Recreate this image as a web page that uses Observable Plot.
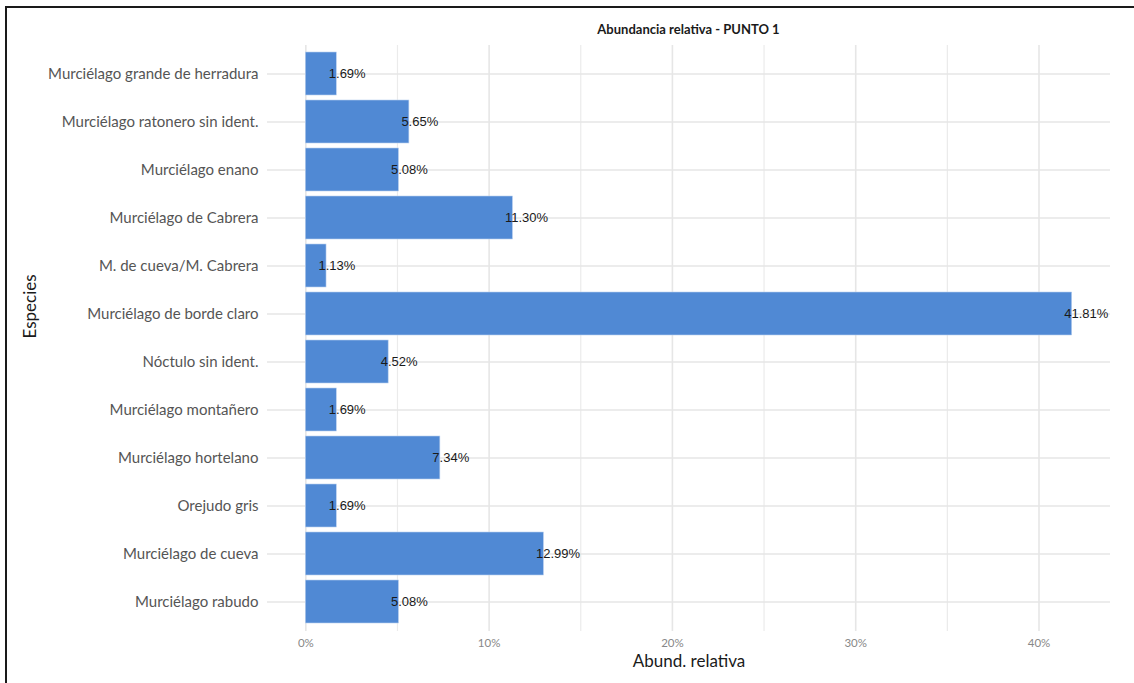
<!DOCTYPE html>
<html>
<head>
<meta charset="utf-8">
<script src="https://cdn.jsdelivr.net/npm/d3@7"></script>
<script src="https://cdn.jsdelivr.net/npm/@observablehq/plot@0.6"></script>
<style>
  html, body { margin: 0; padding: 0; background: #fff; }
  #wrap { position: relative; width: 1134px; height: 683px; overflow: hidden; font-family: Lato, "Open Sans", sans-serif; }
  #frame { position: absolute; top: 6px; left: 5px; right: -4px; bottom: -4px; border-top: 2px solid #1a1a1a; border-left: 2px solid #1a1a1a; pointer-events: none; }
  #title { height: 40px; box-sizing: border-box; padding-top: 21px; margin-left: 267px; width: 843px; text-align: center; font-size: 13px; line-height: 16px; font-weight: bold; color: #1a1a1a; }
  svg [aria-label^="y-axis"] text { font-size: 15px; fill: #555; }
  svg [aria-label^="x-axis"] text { font-size: 11.5px; fill: #888; }
</style>
</head>
<body>
<div id="wrap">
  <div id="title">Abundancia relativa - PUNTO 1</div>
  <div id="chart"></div>
  <div id="frame"></div>
</div>
<script>
const species = [
  "Murciélago grande de herradura",
  "Murciélago ratonero sin ident.",
  "Murciélago enano",
  "Murciélago de Cabrera",
  "M. de cueva/M. Cabrera",
  "Murciélago de borde claro",
  "Nóctulo sin ident.",
  "Murciélago montañero",
  "Murciélago hortelano",
  "Orejudo gris",
  "Murciélago de cueva",
  "Murciélago rabudo"
];
const values = [1.69, 5.65, 5.08, 11.30, 1.13, 41.81, 4.52, 1.69, 7.34, 1.69, 12.99, 5.08];
const majorTicks = [0, 10, 20, 30, 40];
const minorTicks = [5, 15, 25, 35];

const data = species.map((s, i) => ({species: s, value: values[i]}));
const xmax = d3.max(values);
const xpad = xmax * 0.05;

const chart = Plot.plot({
  width: 1134,
  height: 643,
  marginTop: 5,
  marginBottom: 52,
  marginLeft: 267,
  marginRight: 24,
  style: {fontFamily: "Lato, 'Open Sans', sans-serif", background: "#fff"},
  x: {domain: [-xpad, xmax + xpad], ticks: majorTicks, tickFormat: d => d + "%", tickSize: 0, tickPadding: 7, label: null},
  y: {domain: species, paddingInner: 0.1, paddingOuter: 0.05, insetTop: 5, insetBottom: 5, tickSize: 0, tickPadding: 9, label: null},
  marks: [
    Plot.ruleX(minorTicks, {stroke: "#ebebeb", strokeWidth: 1.2}),
    Plot.ruleX(majorTicks, {stroke: "#e6e6e6", strokeWidth: 1.6}),
    Plot.ruleY(species, {y: d => d, stroke: "#e6e6e6", strokeWidth: 1.6}),
    Plot.barX(data, {x: "value", y: "species", fill: "#5089d4", stroke: "#b9cfee", strokeWidth: 0.6}),
    Plot.text(data, {x: "value", y: "species", text: d => d.value.toFixed(2) + "%", textAnchor: "start", dx: -8, fontSize: 13, fill: "#1a1a1a", fontFamily: "'Liberation Sans', Arial, sans-serif"}),
    Plot.text(["Abund. relativa"], {frameAnchor: "bottom", dy: 35, fontSize: 17, fill: "#1a1a1a"}),
    Plot.text(["Especies"], {frameAnchor: "left", dx: -237, rotate: -90, fontSize: 17, fill: "#1a1a1a"})
  ]
});
document.getElementById("chart").appendChild(chart);
</script>
</body>
</html>
